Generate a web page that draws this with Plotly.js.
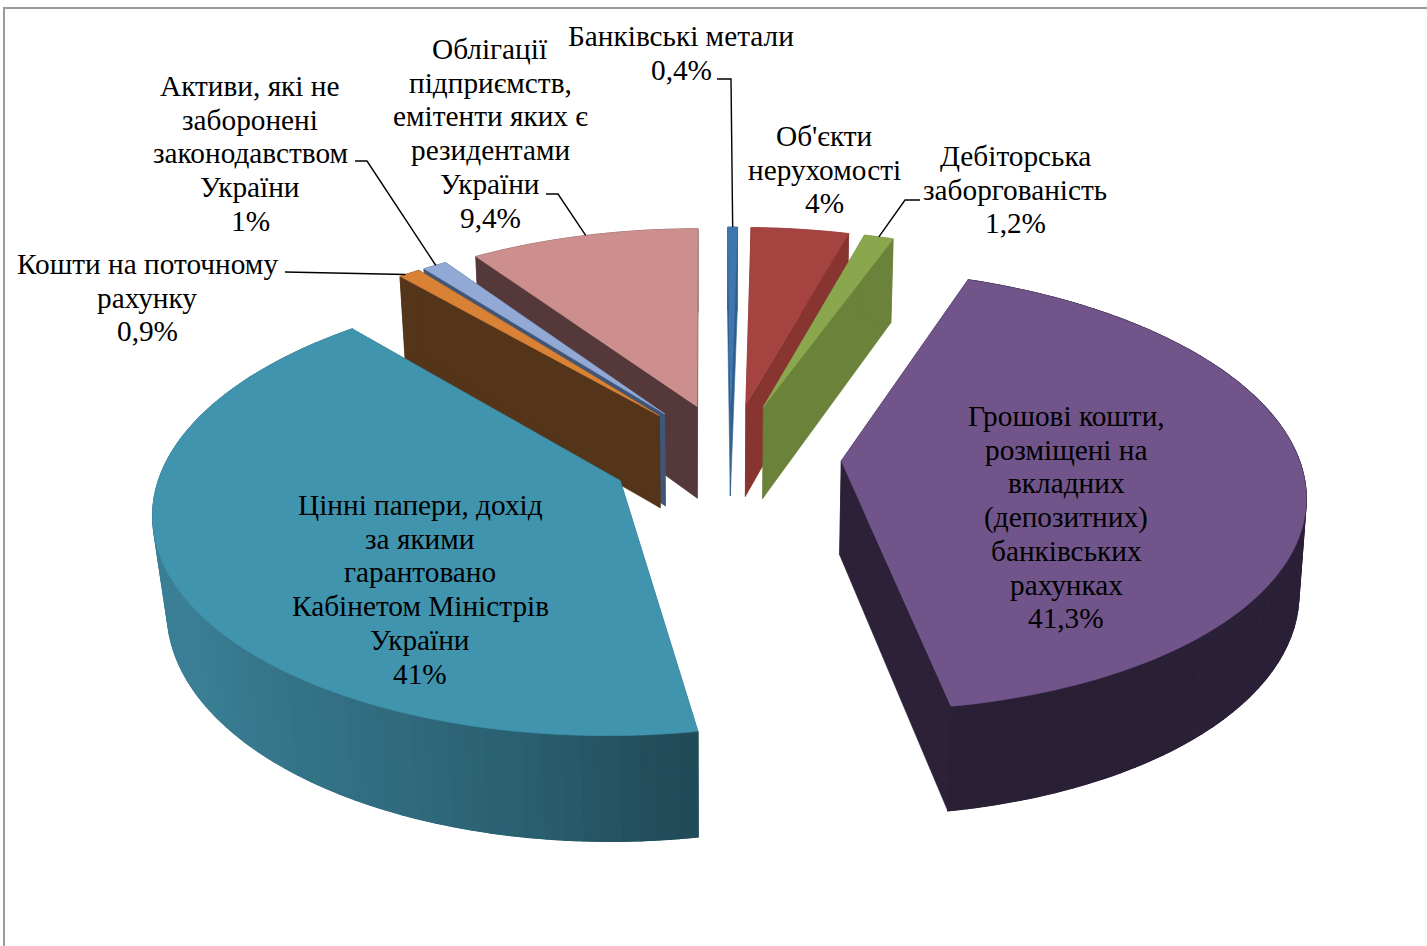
<!DOCTYPE html>
<html>
<head>
<meta charset="utf-8">
<script src="https://cdn.plot.ly/plotly-3.0.1.min.js"></script>
<style>html,body{margin:0;padding:0;background:#fff;overflow:hidden}#chart{width:1427px;height:946px}</style>
</head>
<body>
<div id="chart"></div>
<script>
// Asset structure, clockwise from twelve o'clock
const categories = [
  ["Банківські метали"],
  ["Об'єкти", "нерухомості"],
  ["Дебіторська", "заборгованість"],
  ["Грошові кошти,", "розміщені на", "вкладних", "(депозитних)", "банківських", "рахунках"],
  ["Цінні папери, дохід", "за якими", "гарантовано", "Кабінетом Міністрів", "України"],
  ["Кошти на поточному", "рахунку"],
  ["Активи, які не", "заборонені", "законодавством", "України"],
  ["Облігації", "підприємств,", "емітенти яких є", "резидентами", "України"]
];
const shares = [0.4, 4, 1.2, 41.3, 41, 0.9, 1, 9.4];

// Face colours of each slice
const topColors  = ["#3f76af", "#a54341", "#8ba74d", "#70548a", "#4094ae", "#d98236", "#92a8d5", "#cd8f8d"];
const sideColors = ["#2f5f90", "#883532", "#6a8239", "#2c2139", "#2b6373", "#54351a", "#3f5678", "#54383a"];
// Outer wall shading along the arc: position from the clockwise start of the slice, then colour
const rimColors = {
  3: [[0, [53, 38, 63]], [0.12, [43, 33, 56]], [1, [42, 32, 54]]],
  4: [[0, [33, 75, 89]], [0.03, [34, 77, 91]], [0.13, [42, 96, 112]], [0.26, [50, 110, 129]], [0.46, [58, 127, 149]], [1, [58, 128, 152]]]
};

// First-line centre of each label and the line pitch, in pixels
const labelX = [681, 824, 1015, 1066, 420, 147, 250, 490];
const labelFirstY = [36, 136, 156, 416, 505, 264, 86, 49];
const linePitch = 33.7;

// Perspective view of the exploded pie
const view = {cx: 730, cy: 456, vx: 705, A: 462, B: 218, H: 95, k: 0.1324, m: 0.012};
const sliceExplode = [0.245, 0.245, 0.245, 0.241, 0.26, 0.245, 0.245, 0.245];
const sliceRadius = [0.975, 0.975, 0.975, 0.989, 0.985, 0.975, 0.975, 0.975];
// Horizontal convergence of the walls towards the lower face
const sliceConverge = [0.012, 0.012, 0.014, 0.012, 0.026, 0.02, 0.02, 0.02];

const total = shares.reduce((a, b) => a + b, 0);
const rad = Math.PI / 180;

function project(u, v, h, conv) {
  const wx = 1 + view.k * v + conv * h;
  const wy = 1 + view.k * v + view.m * h;
  return [
    view.vx + (view.cx - view.vx + view.A * u) / wx,
    view.cy - (view.B * v - view.H * h) / wy
  ];
}

// Angular extent of every slice
let acc = 0;
const slices = shares.map((s, i) => {
  const a0 = acc / total * 360;
  acc += s;
  const a1 = acc / total * 360;
  const mid = (a0 + a1) / 2 * rad;
  return {a0, a1, r: sliceRadius[i], conv: sliceConverge[i],
          ou: sliceExplode[i] * Math.sin(mid), ov: sliceExplode[i] * Math.cos(mid)};
});

const rimPoint = (s, deg, h) =>
  project(s.ou + s.r * Math.sin(deg * rad), s.ov + s.r * Math.cos(deg * rad), h, s.conv);

function arc(s, from, to, h) {
  const n = Math.max(2, Math.ceil(Math.abs(to - from) / 1.5));
  const pts = [];
  for (let i = 0; i <= n; i++) pts.push(rimPoint(s, from + (to - from) * i / n, h));
  return pts;
}

function polygon(pts, color, lineWidth) {
  const closed = pts.concat([pts[0]]);
  return {
    type: "scatter", mode: "lines", fill: "toself",
    x: closed.map(p => p[0]), y: closed.map(p => p[1]),
    fillcolor: color, line: {color: color, width: lineWidth === undefined ? 0.6 : lineWidth, simplify: false},
    hoverinfo: "skip", showlegend: false
  };
}

function mixStops(stops, t) {
  let i = 0;
  while (i < stops.length - 2 && t > stops[i + 1][0]) i++;
  const f = (t - stops[i][0]) / (stops[i + 1][0] - stops[i][0]);
  const c = stops[i][1].map((v, j) => Math.round(v + (stops[i + 1][1][j] - v) * f));
  return "rgb(" + c.join(",") + ")";
}

function sliceTraces(i) {
  const s = slices[i], out = [];
  // the two radial walls sit behind the outer wall
  const apexTop = project(s.ou, s.ov, 0, s.conv), apexBot = project(s.ou, s.ov, 1, s.conv);
  [s.a0, s.a1].forEach(a => {
    out.push(polygon([apexTop, rimPoint(s, a, 0), rimPoint(s, a, 1), apexBot], sideColors[i]));
  });
  // outer wall: a solid base, then narrow bands where it carries a gradient
  const stops = rimColors[i];
  out.push(polygon(arc(s, s.a0, s.a1, 0).concat(arc(s, s.a1, s.a0, 1)),
                   stops ? mixStops(stops, 0.3) : sideColors[i]));
  if (stops) {
    const bands = 70;
    for (let b = 0; b < bands; b++) {
      const from = s.a0 + (s.a1 - s.a0) * b / bands;
      const to = s.a0 + (s.a1 - s.a0) * (b + 1) / bands;
      out.push(polygon(arc(s, from, to, 0).concat(arc(s, to, from, 1)),
                       mixStops(stops, (b + 0.5) / bands), 1.2));
    }
  }
  // top face
  out.push(polygon([apexTop].concat(arc(s, s.a0, s.a1, 0)), topColors[i]));
  return out;
}

// Far slices first so nearer ones overlap them
const drawOrder = [0, 1, 2, 7, 6, 5, 4, 3];
const traces = [];
drawOrder.forEach(i => traces.push(...sliceTraces(i)));

// Leader lines end on the rim of their slice
const leaders = [
  {slice: 0, at: 0.5, path: [[717, 79], [731, 79]]},
  {slice: 2, at: 0.5, path: [[920, 200], [905, 200]]},
  {slice: 7, at: 0.51, path: [[546, 194], [558, 194]]},
  {slice: 6, at: 0.55, path: [[355, 161], [367, 161]]},
  {slice: 5, at: 0.3, path: [[285, 272]]}
];
leaders.forEach(l => {
  const s = slices[l.slice];
  const end = rimPoint(s, s.a0 + (s.a1 - s.a0) * l.at, 0);
  const pts = l.path.concat([end]);
  traces.push({
    type: "scatter", mode: "lines",
    x: pts.map(p => p[0]), y: pts.map(p => p[1]),
    line: {color: "#000", width: 1.4, simplify: false},
    hoverinfo: "skip", showlegend: false
  });
});

// One annotation per text line keeps the tight line pitch of the labels
const annotations = [];
categories.forEach((lines, i) => {
  const all = lines.concat([String(shares[i]).replace(".", ",") + "%"]);
  all.forEach((text, j) => annotations.push({
    xref: "x", yref: "y", x: labelX[i], y: labelFirstY[i] + j * linePitch,
    xanchor: "center", yanchor: "middle", align: "center", showarrow: false,
    text: text,
    font: {family: "'Liberation Serif', 'Times New Roman', serif", size: 29.3, color: "#000"}
  }));
});

const layout = {
  width: 1427, height: 946,
  margin: {l: 0, r: 0, t: 0, b: 0},
  paper_bgcolor: "#fff", plot_bgcolor: "#fff",
  xaxis: {range: [0, 1427], visible: false, fixedrange: true},
  yaxis: {range: [946, 0], visible: false, fixedrange: true},
  shapes: [{type: "rect", xref: "x", yref: "y", x0: 4, y0: 8, x1: 1440, y1: 960,
            line: {color: "#9a9a9a", width: 2}, fillcolor: "rgba(0,0,0,0)", layer: "below"}],
  annotations: annotations
};

Plotly.newPlot("chart", traces, layout, {displayModeBar: false, staticPlot: true});
</script>
</body>
</html>
